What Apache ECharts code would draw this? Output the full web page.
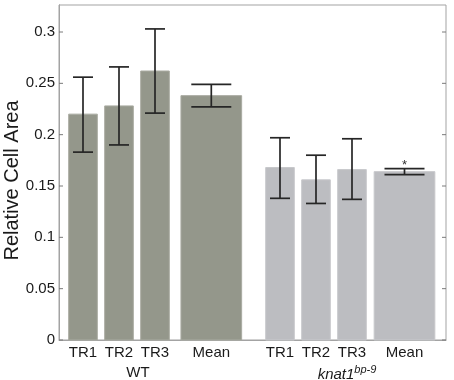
<!DOCTYPE html>
<html><head><meta charset="utf-8">
<script src="https://cdn.jsdelivr.net/npm/echarts@6/dist/echarts.min.js"></script>
<style>html,body{margin:0;padding:0;background:#fff}#c{width:454px;height:380px}</style>
</head><body><div id="c"></div>
<script>
// ---- data ----
const categories = ['TR1', 'TR2', 'TR3', 'Mean'];
const groupNames = ['WT', 'knat1bp-9'];
const wtValues = [0.220, 0.228, 0.262, 0.238];
const wtLower  = [0.183, 0.190, 0.221, 0.227];
const wtUpper  = [0.256, 0.266, 0.303, 0.249];
const knatValues = [0.168, 0.156, 0.166, 0.164];
const knatLower  = [0.138, 0.133, 0.137, 0.161];
const knatUpper  = [0.197, 0.180, 0.196, 0.167];
const knatMarks  = ['', '', '', '*'];
const wtMarks    = ['', '', '', ''];
const yTicks = [0, 0.05, 0.1, 0.15, 0.2, 0.25, 0.3];

// ---- layout (axis units) ----
const slotX = [[24, 60, 96, 152.3], [221, 257, 293, 345.5]];
const groupX = [79, 288];
const barW = [28.6, 28.6, 28.6, 60.7];
const capW = [20, 20, 20, 40];
const FONT = "'Liberation Sans', Arial, sans-serif";

function buildData(gi, vals, lo, hi) {
  return vals.map((v, i) => [slotX[gi][i], v, lo[i], hi[i], barW[i], capW[i]]);
}

function makeRender(fill, stroke, marks) {
  return function (params, api) {
    const x = api.value(0), v = api.value(1), lo = api.value(2), hi = api.value(3);
    const bw = api.value(4), cw = api.value(5);
    const a = api.coord([x - bw / 2, v]);
    const b = api.coord([x + bw / 2, 0]);
    const top = api.coord([x, hi]);
    const bot = api.coord([x, lo]);
    const cl = api.coord([x - cw / 2, hi])[0];
    const cr = api.coord([x + cw / 2, hi])[0];
    const es = { stroke: '#262626', lineWidth: 1.7 };
    const children = [
      { type: 'rect', shape: { x: a[0], y: a[1], width: b[0] - a[0], height: b[1] - a[1] },
        style: { fill: fill, stroke: stroke, lineWidth: 1 } },
      { type: 'line', shape: { x1: top[0], y1: top[1], x2: bot[0], y2: bot[1] }, style: es },
      { type: 'line', shape: { x1: cl, y1: top[1], x2: cr, y2: top[1] }, style: es },
      { type: 'line', shape: { x1: cl, y1: bot[1], x2: cr, y2: bot[1] }, style: es }
    ];
    const m = marks[params.dataIndex];
    if (m) {
      children.push({ type: 'text', x: top[0], y: top[1] - 3,
        style: { text: m, fill: '#333', font: '13px ' + FONT, align: 'center', verticalAlign: 'middle' } });
    }
    return { type: 'group', children: children };
  };
}

// inward tick marks on both vertical axes, placed through the y scale
function tickRender(params, api) {
  const y = api.value(0);
  const l = api.coord([0, y]);
  const r = api.coord([387, y]);
  const st = { stroke: '#7a7a7a', lineWidth: 1 };
  return { type: 'group', children: [
    { type: 'line', shape: { x1: l[0], y1: l[1], x2: l[0] + 4, y2: l[1] }, style: st },
    { type: 'line', shape: { x1: r[0] - 4, y1: r[1], x2: r[0], y2: r[1] }, style: st }
  ] };
}

const allX = slotX[0].concat(slotX[1]);
const allLabels = categories.concat(categories);

const chart = echarts.init(document.getElementById('c'));
chart.setOption({
  animation: false,
  textStyle: { fontFamily: FONT },
  grid: { left: 59, right: 8, top: 5, bottom: 40, containLabel: false, outerBoundsMode: 'none',
    show: true, borderColor: '#a3a3a3', borderWidth: 1 },
  xAxis: [
    { type: 'value', min: 0, max: 387, position: 'bottom',
      axisLine: { show: true, lineStyle: { color: '#a3a3a3', width: 1 } },
      axisTick: { show: false }, splitLine: { show: false },
      axisLabel: { customValues: allX, margin: 5, fontSize: 15, color: '#1a1a1a', fontFamily: FONT,
        formatter: function (v) {
          for (let i = 0; i < allX.length; i++) if (Math.abs(allX[i] - v) < 0.01) return allLabels[i];
          return '';
        } } },
    { type: 'value', min: 0, max: 387, position: 'bottom', offset: 19,
      axisLine: { show: false }, axisTick: { show: false }, splitLine: { show: false },
      axisLabel: { customValues: groupX, margin: 5, fontSize: 15, color: '#1a1a1a', fontFamily: FONT,
        formatter: function (v) {
          if (Math.abs(v - groupX[0]) < 0.01) return '{n|' + groupNames[0] + '}';
          return '{it|knat1}{sup|bp-9}';
        },
        rich: {
          n: { fontSize: 15, fontFamily: FONT, color: '#1a1a1a', lineHeight: 18 },
          it: { fontSize: 15, fontStyle: 'italic', fontFamily: FONT, color: '#1a1a1a', lineHeight: 18, verticalAlign: 'bottom' },
          sup: { fontSize: 11, fontStyle: 'italic', fontFamily: FONT, color: '#1a1a1a', verticalAlign: 'top', lineHeight: 12 }
        } } }
  ],
  yAxis: [
    { type: 'value', min: 0, max: 0.3263, position: 'left',
      name: 'Relative Cell Area', nameLocation: 'middle', nameGap: 37, nameMoveOverlap: false,
      nameTextStyle: { fontSize: 20, color: '#1a1a1a', fontFamily: FONT, padding: [0, 16, 0, 0] },
      axisLine: { show: true, lineStyle: { color: '#a3a3a3', width: 1 } },
      axisTick: { show: false },
      axisLabel: { customValues: yTicks, margin: 4, fontSize: 15, color: '#1a1a1a', fontFamily: FONT,
        formatter: function (v) { return String(v); } },
      splitLine: { show: false } },
    { type: 'value', min: 0, max: 0.3263, position: 'right',
      axisLine: { show: true, lineStyle: { color: '#a3a3a3', width: 1 } },
      axisTick: { show: false },
      axisLabel: { show: false }, splitLine: { show: false } }
  ],
  series: [
    { type: 'custom', name: 'ticks', xAxisIndex: 0, yAxisIndex: 0, silent: true,
      renderItem: tickRender, data: yTicks.map(v => [v]), clip: false, z: 3 },
    { type: 'custom', name: groupNames[0], xAxisIndex: 0, yAxisIndex: 0,
      renderItem: makeRender('#94978b', '#a9aba1', wtMarks),
      data: buildData(0, wtValues, wtLower, wtUpper), clip: false },
    { type: 'custom', name: groupNames[1], xAxisIndex: 0, yAxisIndex: 0,
      renderItem: makeRender('#bcbdc1', '#c8c9cc', knatMarks),
      data: buildData(1, knatValues, knatLower, knatUpper), clip: false }
  ]
});
</script></body></html>
